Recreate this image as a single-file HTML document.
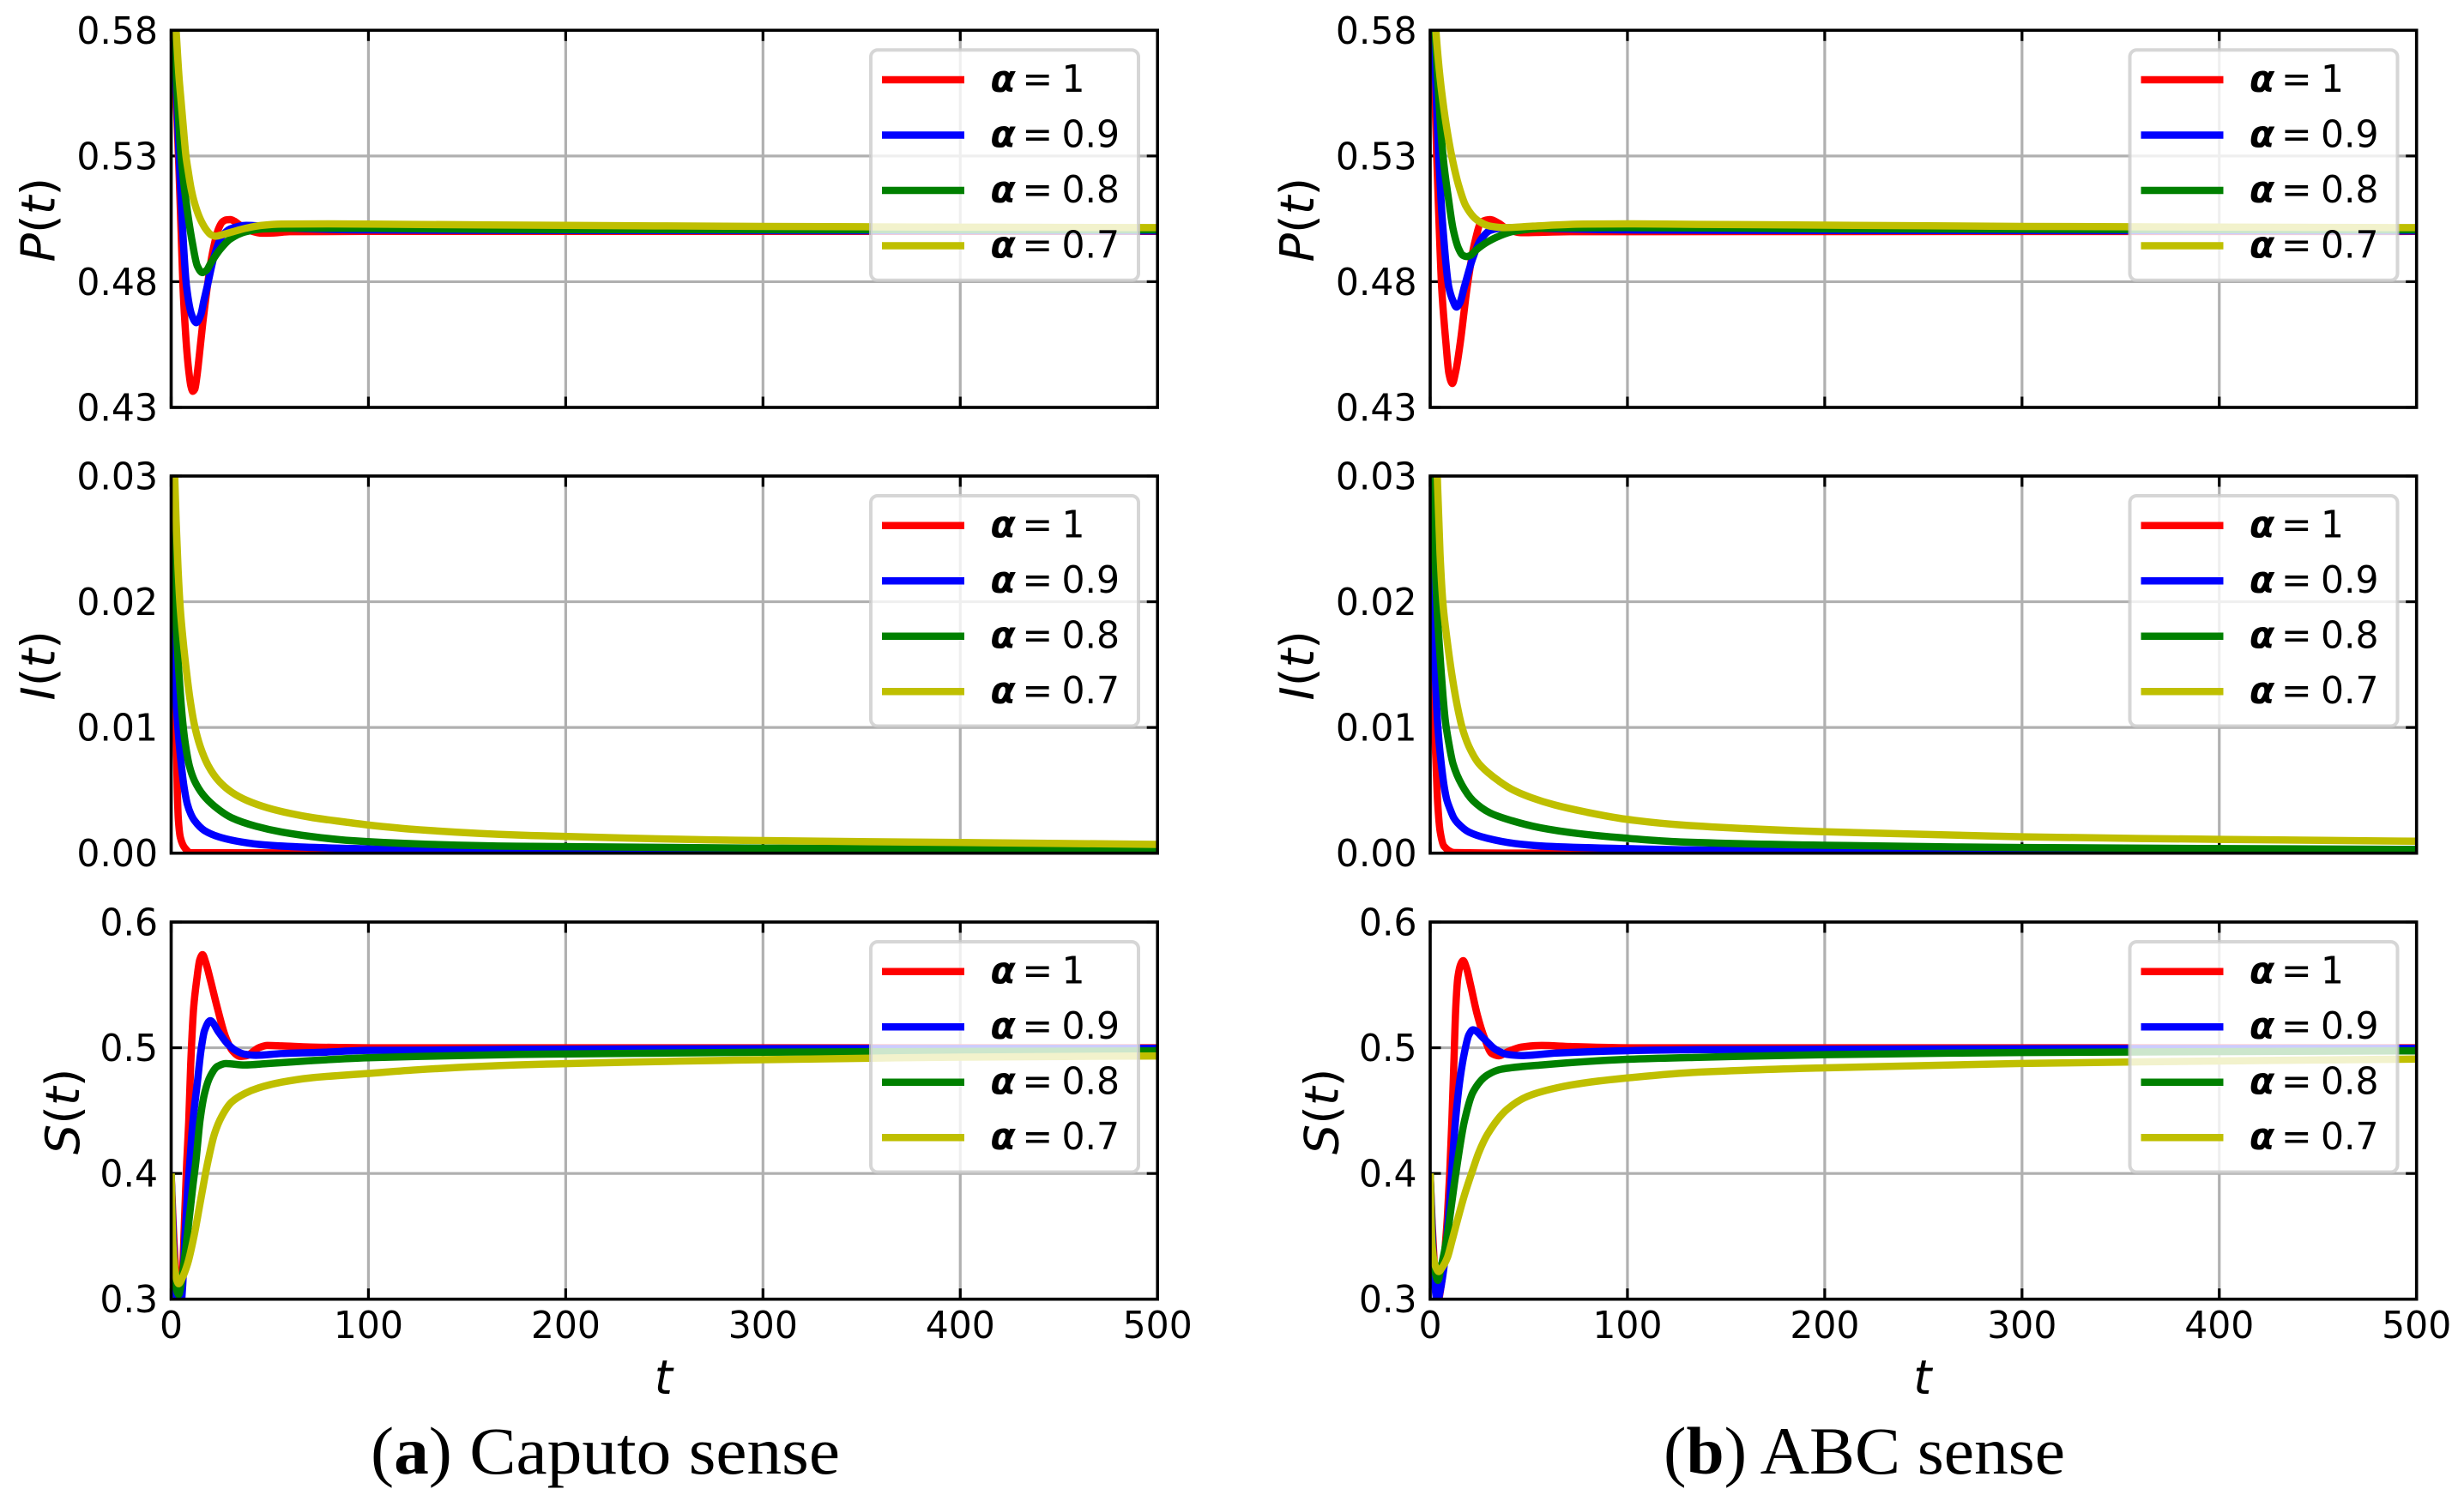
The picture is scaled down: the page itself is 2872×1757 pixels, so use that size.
<!DOCTYPE html>
<html lang="en">
<head>
<meta charset="utf-8">
<title>Caputo and ABC sense solutions</title>
<style>
html,body{margin:0;padding:0;background:#fff;}
svg{display:block;}
text{fill:#000;}
.dj{font-family:"DejaVu Sans",sans-serif;}
.cap{font-family:"Liberation Serif",serif;}
</style>
</head>
<body>
<svg id="figure" xmlns="http://www.w3.org/2000/svg" width="2872" height="1757" viewBox="0 0 2872 1757"></svg>
<script>
const xTicks = [0, 100, 200, 300, 400, 500];
const pTicks = [0.43, 0.48, 0.53, 0.58];
const iTicks = [0.00, 0.01, 0.02, 0.03];
const sTicks = [0.3, 0.4, 0.5, 0.6];
const legendLabels = ["1", "0.9", "0.8", "0.7"];
const seriesNames = ["alpha-1", "alpha-0-9", "alpha-0-8", "alpha-0-7"];
const seriesColors = ["#ff0000", "#0000ff", "#008000", "#bfbf00"];

// Caputo, P(t)
const cPRedT = [0,1,2,3,4,5,6,7,8,9,10,11,12,13,14,16,18,20,22,24,26,28,30,32,34,36,40,46,52,60,100,500];
const cPRedV = [.6,.585,.5635,.544,.5237,.501,.478,.4634,.452,.444,.4385,.4364,.4373,.442,.4487,.4634,.476,.4873,.4953,.501,.5038,.5046,.5047,.5041,.503,.5018,.5003,.4993,.4994,.4999,.5,.5];
const cPBlueT = [0,1.5,3,4.2,5.8,7.8,10.5,12.7,15,16.6,18.3,21.6,25.3,30,38,46.6,63,100,200,500];
const cPBlueV = [.62,.58,.55,.5265,.501,.478,.4666,.4637,.4668,.4725,.4782,.4896,.4975,.501,.5024,.5021,.5012,.5006,.5004,.5002];
const cPGreenT = [0,1.6,3,5,7.5,10.8,13.3,15.8,18,20,25,30,37.5,46.6,63,100,200,500];
const cPGreenV = [.62,.58,.556,.53,.5123,.4953,.4862,.4836,.4846,.4873,.493,.497,.4998,.501,.5013,.5012,.5007,.5006];
const cPYellowT = [0,1,2.5,4,5,6,7.5,8.7,10,11.5,13.8,15.5,17.5,20,22.5,25,30,38,46,56,80,120,200,300,400,500];
const cPYellowV = [.62,.598,.58,.5612,.5521,.543,.53,.5237,.5175,.5123,.5067,.5037,.501,.4988,.4981,.4985,.4996,.5013,.5024,.5029,.503,.5028,.5024,.502,.5017,.5015];

// ABC, P(t)
const aPRedT = [0,1.5,3.3,4.6,5.8,8,9.5,11.2,13,15.2,18.8,22.5,26,30.4,34.8,39,46,53.6,71,500];
const aPRedV = [.62,.58,.53,.501,.478,.4555,.4435,.4395,.4445,.4555,.4782,.4953,.5038,.5047,.5032,.501,.4995,.4996,.4999,.5];
const aPBlueT = [0,1.7,4.3,6.5,9.4,11.5,13.3,15,17.4,21.7,25.4,30.4,34.8,42,56.5,100,200,500];
const aPBlueV = [.63,.58,.53,.501,.478,.4725,.4699,.4715,.4782,.4896,.4964,.5004,.5012,.5015,.5012,.5006,.5004,.5002];
const aPGreenT = [0,2.5,6.5,9.4,11.6,14.5,16.5,18.5,20.5,23,29,34.8,42,56.5,100,200,500];
const aPGreenV = [.63,.58,.53,.5123,.501,.493,.4905,.49,.4905,.4924,.4958,.4981,.5,.5012,.5015,.501,.5006];
const aPYellowT = [0,2.9,4,5,6,8,10.9,14.5,18.1,24,30.4,37.7,52,78,100,136,200,300,500];
const aPYellowV = [.63,.58,.5692,.5612,.5544,.543,.53,.5181,.5101,.5044,.5021,.5015,.5021,.5029,.503,.5028,.5025,.502,.5015];

// Caputo, I(t)
const cIRedT = [0,1.2,2.2,2.8,3.1,3.6,4.7,7,10,500];
const cIRedV = [.03,.02,.0105,.0074,.0051,.0028,.00123,.0004,.00003,0];
const cIBlueT = [0,.5,1,1.4,2.1,3.4,4.9,6.5,8.2,10,11.8,16.9,25.6,35.7,47,67.6,99.5,126,175,300,500];
const cIBlueV = [.03,.024,.0185,.01645,.0135,.01,.0074,.0053,.0039,.0031,.0026,.0018,.00123,.00089,.00066,.00048,.00034,.00024,.00015,.0001,.00005];
const cIGreenT = [0,.8,1.4,2.1,3,3.8,4.9,5.7,7,9.3,11.8,16.2,22,30.6,43,56,76,91,126,175,300,500];
const cIGreenV = [.032,.0274,.0235,.02,.0168,.0146,.0122,.0107,.0089,.0069,.00577,.00464,.00373,.00282,.00214,.00168,.00123,.001,.00073,.00055,.0004,.0003];
const cIYellowT = [0,1.8,2.5,3.5,4.6,6,7.5,9.6,11.8,14.7,19,24,30.6,38.6,48.8,60.4,72,88,99.5,126,175,300,400,500];
const cIYellowV = [.04,.03,.0265,.0226,.0195,.017,.0148,.0122,.0102,.0085,.0069,.00577,.00486,.00418,.00361,.00316,.00282,.00248,.00225,.00186,.00145,.001,.00085,.0007];

// ABC, I(t)
const aIRedT = [0,.9,1.2,2.2,2.9,3.8,5.1,7,12.3,60,500];
const aIRedV = [.03,.02,.0165,.01,.0074,.004,.00168,.00055,.00005,0,0];
const aIBlueT = [0,.7,1.7,2.6,3.9,5.4,7.2,8.5,10.1,12,13.8,19.6,29,42.8,58.7,99.3,127,200,500];
const aIBlueV = [.032,.0278,.0187,.0142,.01,.0074,.0052,.0042,.0035,.0028,.00242,.00168,.00118,.00077,.00055,.00036,.00027,.00015,.00005];
const aIGreenT = [0,1.4,2.5,3.6,4.6,5.4,6.5,7.7,9.4,11.6,16,21.7,30.4,41.3,55.8,74.6,96.4,127,200,300,500];
const aIGreenV = [.04,.03,.0232,.0192,.0166,.0148,.0125,.0105,.0088,.0071,.00545,.00418,.0032,.00259,.00202,.00157,.00123,.00089,.00063,.00045,.0003];
const aIYellowT = [0,3.6,5,6.5,8.7,10.9,13.5,16.2,19.6,24.6,32.6,41.3,51.4,63,79,99.3,127,200,300,400,500];
const aIYellowV = [.05,.03,.0238,.0198,.0168,.0143,.0119,.01,.0085,.00714,.006,.00509,.00441,.00384,.00327,.0027,.00225,.0017,.0013,.0011,.00095];

// Caputo, S(t)
const cSRedT = [0,1,2,3,4.2,5,5.8,6.7,7.9,8.9,9.9,11.4,13,14.5,15.9,17.5,19.8,23.4,27.5,31,35,38,44.4,48.8,56,70.5,100,500];
const cSRedV = [.4,.36,.33,.31,.285,.295,.32,.36,.409,.4408,.4863,.5318,.5545,.57,.5741,.568,.5545,.5318,.509,.4977,.4931,.4935,.5,.5018,.5015,.5006,.5,.5];
const cSBlueT = [0,1,2,3,4.5,5.8,7,8.3,9.6,11,13.3,15.1,16.9,19.8,24.1,28.5,32.8,37.2,43,56,78,99.5,126,175,300,500];
const cSBlueV = [.4,.35,.315,.296,.288,.31,.35,.385,.412,.4408,.4726,.4977,.5136,.5215,.5124,.5033,.4977,.4949,.494,.4954,.4965,.4979,.4981,.4988,.4993,.4995];
const cSGreenT = [0,1,2,3,3.8,5,7,9,11,12.5,14.7,16.9,19.8,23.4,27.8,37.2,48.8,70.5,99.5,126,175,300,500];
const cSGreenV = [.4,.335,.315,.306,.3037,.312,.335,.362,.39,.409,.4431,.4635,.4772,.4851,.4874,.4863,.4874,.4897,.492,.4931,.4947,.4965,.4975];
const cSYellowT = [0,.5,1,2,3,3.8,5.5,8.3,11.7,14.5,17,18.3,22,25.6,30.6,37.2,44.4,56,70.5,99.5,126,175,300,400,500];
const cSYellowV = [.4,.36,.34,.322,.3145,.3123,.3165,.328,.351,.375,.3965,.407,.4317,.4453,.4567,.4635,.4681,.4726,.476,.4795,.4826,.4863,.4905,.4925,.4935];

// ABC, S(t)
const aSRedT = [0,1,2,3,3.6,5,6.3,7.5,8.7,9.9,11,12,13,14,15.5,16.7,18.5,20.3,23.9,27.5,31.2,34.8,39,46.4,56.5,71,100,500];
const aSRedV = [.4,.36,.33,.305,.295,.305,.32,.34,.365,.4,.442,.4874,.5329,.5556,.5665,.5693,.563,.5511,.5261,.5079,.4954,.4936,.4966,.5006,.5018,.501,.5,.5];
const aSBlueT = [0,1,2,3,3.6,5,7.2,8.5,10,11.3,13,15.2,17.4,19.6,21.7,27.5,33,39,46.4,64,100,136,300,500];
const aSBlueV = [.4,.355,.32,.302,.297,.306,.328,.35,.38,.41,.445,.476,.4965,.5102,.5143,.5068,.4988,.4947,.4938,.4958,.4977,.4985,.4992,.4995];
const aSGreenT = [0,1,2,3,3.9,5.5,8.7,10.8,13,17.4,21.7,29,36,56.5,100,136,200,300,500];
const aSGreenV = [.4,.345,.327,.318,.315,.325,.351,.375,.4,.442,.4647,.4783,.4829,.4863,.4908,.4924,.4945,.4962,.4975];
const aSYellowT = [0,.5,1,2,3,4.3,6,8.7,11,13,17.4,21.7,24.6,29,39,49.3,63.8,78,100,136,200,300,400,500];
const aSYellowV = [.4,.36,.342,.33,.325,.322,.325,.333,.346,.358,.383,.4035,.4165,.431,.451,.4613,.468,.472,.476,.4806,.484,.4875,.4895,.491];

const NS = "http://www.w3.org/2000/svg";
const svg = document.getElementById("figure");
const TEXT_STRETCH = 1.02;

function make(parent, tag, name, interactable, attrs) {
  const el = document.createElementNS(NS, tag);
  
  
  for (const k in attrs) el.setAttribute(k, attrs[k]);
  parent.appendChild(el);
  return el;
}

function span(parent, name, str, attrs) {
  const el = make(parent, "tspan", name, "false", attrs);
  el.textContent = str;
  return el;
}

// Monotone cubic through pixel points so that peaks don't overshoot.
function smoothPath(xs, ys) {
  const n = xs.length;
  const d = [], m = new Array(n);
  for (let i = 0; i < n - 1; i++) d.push((ys[i + 1] - ys[i]) / (xs[i + 1] - xs[i]));
  m[0] = d[0];
  m[n - 1] = d[n - 2];
  for (let i = 1; i < n - 1; i++) {
    if (d[i - 1] * d[i] <= 0) { m[i] = 0; continue; }
    const h0 = xs[i] - xs[i - 1], h1 = xs[i + 1] - xs[i];
    const w1 = 2 * h1 + h0, w2 = h1 + 2 * h0;
    m[i] = (w1 + w2) / (w1 / d[i - 1] + w2 / d[i]);
  }
  let p = "M" + xs[0].toFixed(2) + " " + ys[0].toFixed(2);
  for (let i = 0; i < n - 1; i++) {
    const h = (xs[i + 1] - xs[i]) / 3;
    p += "C" + (xs[i] + h).toFixed(2) + " " + (ys[i] + m[i] * h).toFixed(2) + " " +
         (xs[i + 1] - h).toFixed(2) + " " + (ys[i + 1] - m[i + 1] * h).toFixed(2) + " " +
         xs[i + 1].toFixed(2) + " " + ys[i + 1].toFixed(2);
  }
  return p;
}

const AX_W = 1149.7, AX_H = 439.7;
const columns = [
  { key: "caputo", left: 199.5, caption: "Caputo sense", tag: "a", capX: 432, capW: 547 },
  { key: "abc", left: 1667, caption: "ABC sense", tag: "b", capX: 1939, capW: 468 }
];
const rows = [
  { key: "p", letter: "P", top: 35.3, ticks: pTicks, digits: 2, labelOffset: 136 },
  { key: "i", letter: "I", top: 555, ticks: iTicks, digits: 2, labelOffset: 136 },
  { key: "s", letter: "S", top: 1075, ticks: sTicks, digits: 1, labelOffset: 107.5 }
];
const panelSeries = {
  "caputo-p": [[cPRedT, cPRedV], [cPBlueT, cPBlueV], [cPGreenT, cPGreenV], [cPYellowT, cPYellowV]],
  "caputo-i": [[cIRedT, cIRedV], [cIBlueT, cIBlueV], [cIGreenT, cIGreenV], [cIYellowT, cIYellowV]],
  "caputo-s": [[cSRedT, cSRedV], [cSBlueT, cSBlueV], [cSGreenT, cSGreenV], [cSYellowT, cSYellowV]],
  "abc-p": [[aPRedT, aPRedV], [aPBlueT, aPBlueV], [aPGreenT, aPGreenV], [aPYellowT, aPYellowV]],
  "abc-i": [[aIRedT, aIRedV], [aIBlueT, aIBlueV], [aIGreenT, aIGreenV], [aIYellowT, aIYellowV]],
  "abc-s": [[aSRedT, aSRedV], [aSBlueT, aSBlueV], [aSGreenT, aSGreenV], [aSYellowT, aSYellowV]]
};

const defs = make(svg, "defs", "clip-definitions", "false", {});

function drawPanel(col, row, isBottom) {
  const id = col.key + "-" + row.key;
  const L = col.left, T = row.top, R = L + AX_W, B = T + AX_H;
  const xMin = xTicks[0], xMax = xTicks[xTicks.length - 1];
  const yMin = row.ticks[0], yMax = row.ticks[row.ticks.length - 1];
  const sx = v => L + (v - xMin) / (xMax - xMin) * AX_W;
  const sy = v => B - (v - yMin) / (yMax - yMin) * AX_H;

  const clip = make(defs, "clipPath", "plot-clip-" + id, "false", { id: "clip-" + id });
  make(clip, "rect", "plot-clip-rect-" + id, "false", { x: L, y: T, width: AX_W, height: AX_H });

  const g = make(svg, "g", "panel-" + id, "false", {});

  // Grid
  const grid = make(g, "g", "grid-" + id, "false", { stroke: "#b0b0b0", "stroke-width": 3.2 });
  xTicks.forEach(v => {
    make(grid, "line", "x-gridline-" + v, "false", { x1: sx(v), x2: sx(v), y1: T, y2: B });
  });
  row.ticks.forEach(v => {
    make(grid, "line", "y-gridline-" + v.toFixed(row.digits), "false", { x1: L, x2: R, y1: sy(v), y2: sy(v) });
  });

  // Inward ticks on all four sides
  const tl = 12.5;
  const ticks = make(g, "g", "ticks-" + id, "false", { stroke: "#000", "stroke-width": 3.2 });
  xTicks.forEach(v => {
    make(ticks, "line", "x-tick-bottom-" + v, "false", { x1: sx(v), x2: sx(v), y1: B, y2: B - tl });
    make(ticks, "line", "x-tick-top-" + v, "false", { x1: sx(v), x2: sx(v), y1: T, y2: T + tl });
  });
  row.ticks.forEach(v => {
    const lab = v.toFixed(row.digits);
    make(ticks, "line", "y-tick-left-" + lab, "false", { x1: L, x2: L + tl, y1: sy(v), y2: sy(v) });
    make(ticks, "line", "y-tick-right-" + lab, "false", { x1: R, x2: R - tl, y1: sy(v), y2: sy(v) });
  });

  // Curves
  const curves = make(g, "g", "curves-" + id, "false", { "clip-path": "url(#clip-" + id + ")", fill: "none", "stroke-width": 8.5, "stroke-linejoin": "round" });
  panelSeries[id].forEach((s, i) => {
    const d = smoothPath(s[0].map(sx), s[1].map(sy));
    make(curves, "path", "curve-" + seriesNames[i] + "-" + id, "false", { d: d, stroke: seriesColors[i] });
  });

  // Frame
  make(g, "rect", "axes-frame-" + id, "false", { x: L, y: T, width: AX_W, height: AX_H, fill: "none", stroke: "#000", "stroke-width": 3.6 });

  // Y tick labels
  row.ticks.forEach(v => {
    const lab = v.toFixed(row.digits);
    const t = make(g, "text", "y-tick-label-" + lab, "false", {
      class: "dj", "font-size": 42.5, "text-anchor": "end",
      transform: "translate(" + (L - 15.5) + " " + (sy(v) + 15.5) + ") scale(1 " + TEXT_STRETCH + ")"
    });
    t.textContent = lab;
  });

  // Y axis title
  const yt = make(g, "text", "y-axis-title-" + id, "false", {
    class: "dj", "font-size": 54, "text-anchor": "middle",
    transform: "translate(" + (L - row.labelOffset) + " " + ((T + B) / 2 + 1) + ") rotate(-90) scale(1.03 1)"
  });
  span(yt, "y-title-letter", row.letter, { "font-style": "italic" });
  span(yt, "y-title-open-paren", "(", {});
  span(yt, "y-title-variable", "t", { "font-style": "italic" });
  span(yt, "y-title-close-paren", ")", {});

  // X labels on bottom row only
  if (isBottom) {
    xTicks.forEach(v => {
      const t = make(g, "text", "x-tick-label-" + v, "false", {
        class: "dj", "font-size": 42.5, "text-anchor": "middle",
        transform: "translate(" + sx(v) + " " + 1560 + ") scale(1 " + TEXT_STRETCH + ")"
      });
      t.textContent = String(v);
    });
    const xt = make(g, "text", "x-axis-title-" + col.key, "false", {
      class: "dj", "font-size": 54, "font-style": "italic", "text-anchor": "middle",
      transform: "translate(" + (sx(250) - 1) + " " + 1625 + ") scale(1 " + TEXT_STRETCH + ")"
    });
    xt.textContent = "t";
  }

  // Legend
  const lg = make(g, "g", "legend-" + id, "true", {});
  make(lg, "rect", "legend-box", "false", {
    x: L + 815.5, y: T + 23, width: 312, height: 268.5, rx: 8, ry: 8,
    fill: "#fff", "fill-opacity": 0.8, stroke: "#cccccc", "stroke-opacity": 0.8, "stroke-width": 4
  });
  legendLabels.forEach((lab, i) => {
    const yy = T + 57.7 + i * 64.5;
    const entry = make(lg, "g", "legend-entry-" + seriesNames[i], "false", {});
    make(entry, "line", "legend-line", "false", {
      x1: L + 828.5, x2: L + 924.5, y1: yy, y2: yy, stroke: seriesColors[i], "stroke-width": 8.5
    });
    const t = make(entry, "text", "legend-label", "false", {
      class: "dj", "font-size": 42.5,
      transform: "translate(0 " + (yy + 14) + ") scale(1 " + TEXT_STRETCH + ")"
    });
    span(t, "legend-alpha", "α", { x: L + 955, "font-weight": "bold", "font-style": "italic" });
    span(t, "legend-equals", "=", { x: L + 992 });
    span(t, "legend-value", lab, { x: L + 1038 });
  });
}

columns.forEach(col => {
  rows.forEach((row, r) => drawPanel(col, row, r === rows.length - 1));
  const c = make(svg, "text", "caption-" + col.tag, "false", {
    class: "cap", "font-size": 78, x: col.capX, y: 1718,
    textLength: col.capW, lengthAdjust: "spacingAndGlyphs"
  });
  span(c, "caption-open-paren", "(", {});
  span(c, "caption-tag", col.tag, { "font-weight": "bold" });
  span(c, "caption-text", ") " + col.caption, {});
});
</script>
</body>
</html>
